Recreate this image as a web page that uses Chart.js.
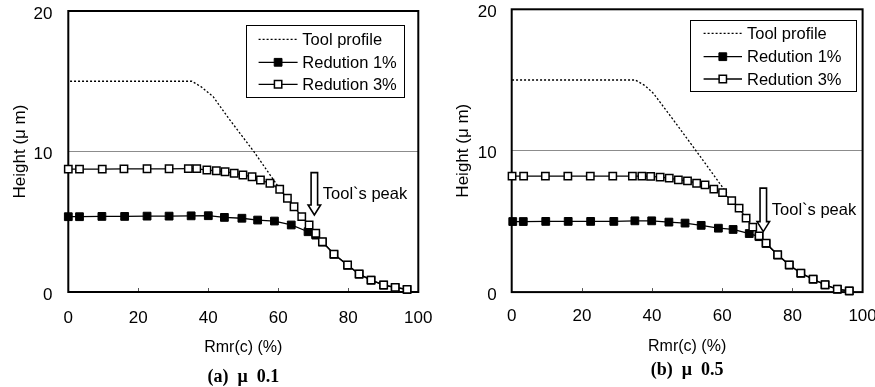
<!DOCTYPE html>
<html>
<head>
<meta charset="utf-8">
<script src="https://cdn.jsdelivr.net/npm/chart.js@4/dist/chart.umd.min.js"></script>
<style>
  html, body { margin: 0; padding: 0; background: #fff; }
  #wrap { position: relative; width: 875px; height: 387px; }
  canvas { position: absolute; top: 0; }
  #chartA { left: 0; }
  #chartB { left: 437px; }
</style>
</head>
<body>
<div id="wrap">
  <canvas id="chartA" width="437" height="387"></canvas>
  <canvas id="chartB" width="438" height="387"></canvas>
</div>
<script>
// ---- panel (a) mu 0.1 ----
const toolXA = [0.5, 35.3, 38, 41.4, 46, 53, 59.7];
const toolYA = [15, 15, 14.6, 13.9, 12.3, 10, 7.6];

const red1XA = [0, 3.2, 9.6, 16.1, 22.5, 28.8, 35.1, 40.0, 44.6, 49.6, 54.1, 58.9, 63.7, 68.5,
                70.7, 72.6, 75.9, 79.8, 83.1, 86.5, 90.1, 93.4, 96.8];
const red1YA = [5.36, 5.36, 5.38, 5.38, 5.40, 5.40, 5.42, 5.43, 5.31, 5.25, 5.12, 5.05, 4.77, 4.29,
                4.05, 3.55, 2.68, 1.90, 1.27, 0.84, 0.49, 0.32, 0.18];

const red3XA = [0, 3.2, 9.7, 15.9, 22.5, 28.8, 34.3, 36.7, 39.6, 42.3, 44.8, 47.4, 49.9, 52.5, 54.9,
                57.6, 60.4, 62.6, 64.5, 66.7, 68.8, 70.7, 72.6, 75.9, 79.8, 83.1, 86.5, 90.1, 93.4, 96.8];
const red3YA = [8.75, 8.75, 8.75, 8.76, 8.77, 8.77, 8.78, 8.78, 8.68, 8.63, 8.56, 8.45, 8.33, 8.20, 7.97,
                7.74, 7.31, 6.67, 6.07, 5.36, 4.77, 4.18, 3.58, 2.70, 1.92, 1.28, 0.85, 0.50, 0.33, 0.19];

const arrowA = [70.3, 8.5, 5.48]; // x, top, tip

// ---- panel (b) mu 0.5 ----
const toolXB = [0.1, 35.2, 38, 40.4, 46, 52.7, 61.3];
const toolYB = [15, 15, 14.6, 14.05, 12.2, 9.94, 7.0];

const red1XB = [0.3, 3.3, 9.7, 16.1, 22.5, 29.1, 35.1, 39.9, 44.8, 49.4, 54.0, 58.9, 63.1, 67.7,
                70.5, 72.5, 75.8, 79.1, 82.4, 85.9, 89.3, 92.8, 96.2];
const red1YB = [4.99, 4.99, 5.00, 5.00, 5.00, 5.00, 5.04, 5.04, 4.95, 4.88, 4.72, 4.52, 4.43, 4.14,
                3.92, 3.44, 2.62, 1.91, 1.33, 0.91, 0.51, 0.20, 0.08];

const red3XB = [0.1, 3.4, 9.6, 16.0, 22.4, 28.8, 34.4, 37.1, 39.6, 42.3, 44.9, 47.5, 50.1, 52.7, 55.1,
                57.6, 60.1, 62.7, 64.8, 66.8, 68.7, 70.5, 72.5, 75.8, 79.1, 82.4, 85.9, 89.3, 92.8, 96.2];
const red3YB = [8.20, 8.20, 8.20, 8.20, 8.20, 8.20, 8.20, 8.20, 8.18, 8.13, 8.06, 7.94, 7.87, 7.70, 7.58,
                7.28, 7.04, 6.47, 5.94, 5.23, 4.59, 3.98, 3.46, 2.64, 1.93, 1.34, 0.92, 0.52, 0.21, 0.09];

const arrowB = [71.7, 7.35, 4.28];

const xTicks = [0, 20, 40, 60, 80, 100];
const yTicks = [0, 10, 20];
const seriesLabels = ['Tool profile', 'Redution 1%', 'Redution 3%'];

const SANS = '"Liberation Sans", "Noto Sans CJK JP", sans-serif';
Chart.defaults.color = '#000';

function toPoints(xs, ys) {
  return xs.map((x, i) => ({ x: x, y: ys[i] }));
}

// plot frame + small inward ticks on the x axis
const framePlugin = {
  id: 'frame',
  beforeDatasetsDraw(chart) {
    const { ctx, chartArea: a, scales } = chart;
    ctx.save();
    ctx.strokeStyle = '#000';
    ctx.lineWidth = 2;
    ctx.strokeRect(a.left, a.top, a.right - a.left, a.bottom - a.top);
    ctx.lineWidth = 1;
    ctx.strokeStyle = '#555';
    xTicks.slice(1, -1).forEach(v => {
      const px = Math.round(scales.x.getPixelForValue(v)) + 0.5;
      ctx.beginPath();
      ctx.moveTo(px, a.bottom - 1);
      ctx.lineTo(px, a.bottom - 4);
      ctx.stroke();
    });
    ctx.restore();
  }
};

// boxed legend inside the plot, line sample with marker
const boxLegendPlugin = {
  id: 'boxLegend',
  afterDatasetsDraw(chart, args, o) {
    const { ctx, chartArea: a } = chart;
    const x0 = a.right - o.right - o.width;
    const y0 = a.top + o.top;
    ctx.save();
    ctx.fillStyle = '#fff';
    ctx.fillRect(x0, y0, o.width, o.height);
    ctx.strokeStyle = '#000';
    ctx.lineWidth = 1;
    ctx.strokeRect(Math.round(x0) + 0.5, Math.round(y0) + 0.5, o.width, o.height);
    chart.data.datasets.forEach((ds, i) => {
      const y = y0 + o.rows[i];
      const l = x0 + o.lineFrom, r = x0 + o.lineTo;
      ctx.strokeStyle = ds.borderColor;
      ctx.lineWidth = ds.borderWidth;
      ctx.setLineDash(ds.borderDash || []);
      ctx.beginPath();
      ctx.moveTo(l, y);
      ctx.lineTo(r, y);
      ctx.stroke();
      ctx.setLineDash([]);
      if (ds.pointRadius > 0) {
        const s = ds.pointRadius * Math.SQRT1_2;
        const mx = (l + r) / 2;
        ctx.fillStyle = ds.pointBackgroundColor;
        ctx.lineWidth = ds.pointBorderWidth;
        ctx.beginPath();
        ctx.rect(mx - s, y - s, 2 * s, 2 * s);
        ctx.fill();
        ctx.stroke();
      }
      ctx.fillStyle = '#000';
      ctx.font = '16.5px ' + SANS;
      ctx.textBaseline = 'middle';
      ctx.textAlign = 'left';
      ctx.fillText(ds.label, x0 + o.textX, y + 1);
    });
    ctx.restore();
  }
};

// hollow arrow marking the tool peak
const peakArrowPlugin = {
  id: 'peakArrow',
  afterDatasetsDraw(chart, args, o) {
    const { ctx, scales } = chart;
    const x = scales.x.getPixelForValue(o.at[0]);
    const yTop = scales.y.getPixelForValue(o.at[1]);
    const yTip = scales.y.getPixelForValue(o.at[2]);
    const sw = o.shaft / 2, hw = o.head / 2, hl = o.headLen;
    ctx.save();
    ctx.beginPath();
    ctx.moveTo(x - sw, yTop);
    ctx.lineTo(x + sw, yTop);
    ctx.lineTo(x + sw, yTip - hl);
    ctx.lineTo(x + hw, yTip - hl);
    ctx.lineTo(x, yTip);
    ctx.lineTo(x - hw, yTip - hl);
    ctx.lineTo(x - sw, yTip - hl);
    ctx.closePath();
    ctx.fillStyle = '#fff';
    ctx.fill();
    ctx.strokeStyle = '#000';
    ctx.lineWidth = 1.6;
    ctx.stroke();
    ctx.fillStyle = '#000';
    ctx.font = '16.5px ' + SANS;
    ctx.textBaseline = 'middle';
    ctx.textAlign = 'left';
    ctx.fillText(o.text, x + o.textDx, (yTop + yTip) / 2 + 1);
    ctx.restore();
  }
};

function buildChart(id, d, lay) {
  return new Chart(document.getElementById(id), {
    type: 'line',
    data: {
      datasets: [
        {
          label: seriesLabels[0],
          data: toPoints(d.toolX, d.toolY),
          borderColor: '#000',
          borderWidth: 1.3,
          borderDash: [2, 2],
          pointRadius: 0,
          order: 2
        },
        {
          label: seriesLabels[1],
          data: toPoints(d.r1X, d.r1Y),
          borderColor: '#000',
          borderWidth: 1.3,
          pointStyle: 'rect',
          pointRadius: 5.5,
          pointBorderWidth: 1,
          pointBackgroundColor: '#000',
          pointBorderColor: '#000',
          order: 1
        },
        {
          label: seriesLabels[2],
          data: toPoints(d.r3X, d.r3Y),
          borderColor: '#000',
          borderWidth: 1.3,
          pointStyle: 'rect',
          pointRadius: 5.2,
          pointBorderWidth: 1.5,
          pointBackgroundColor: '#fff',
          pointBorderColor: '#000',
          order: 0
        }
      ]
    },
    options: {
      responsive: false,
      animation: false,
      clip: false,
      layout: { padding: { top: lay.top, right: lay.right, left: 0, bottom: 0 } },
      elements: { line: { tension: 0 } },
      plugins: {
        legend: { display: false },
        tooltip: { enabled: false },
        title: {
          display: true,
          position: 'bottom',
          fullSize: false,
          text: d.caption,
          color: '#000',
          font: { family: '"Liberation Serif", "DejaVu Serif", serif', size: 18, weight: 'bold', lineHeight: 1.1 },
          padding: { top: 0, bottom: lay.capPad }
        },
        boxLegend: lay.legend,
        peakArrow: { at: d.arrow, text: 'Tool`s peak', shaft: 6.5, head: 12.5, headLen: 10, textDx: 8.5 }
      },
      scales: {
        x: {
          type: 'linear',
          min: 0,
          max: 100,
          afterBuildTicks: s => { s.ticks = xTicks.map(v => ({ value: v })); },
          ticks: { padding: lay.xTickPad, font: { family: SANS, size: 17, lineHeight: 1.2 } },
          grid: { display: false, drawTicks: false },
          border: { display: false },
          title: {
            display: true,
            text: 'Rmr(c) (%)',
            font: { family: SANS, size: 16, lineHeight: 1.2 },
            padding: { top: 0, bottom: lay.xTitlePad }
          },
          afterFit: s => { s.height = lay.xH; s.paddingLeft = 0; s.paddingRight = 0; }
        },
        y: {
          type: 'linear',
          min: 0,
          max: 20,
          afterBuildTicks: s => { s.ticks = yTicks.map(v => ({ value: v })); },
          ticks: { padding: lay.yTickPad, labelOffset: 3, font: { family: SANS, size: 17, lineHeight: 1.2 } },
          grid: {
            drawTicks: false,
            lineWidth: 1,
            color: c => (c.tick && c.tick.value === 10 ? '#8c8c8c' : 'rgba(0,0,0,0)')
          },
          border: { display: false },
          title: {
            display: true,
            text: 'Height (μ m)',
            font: { family: SANS, size: 17, lineHeight: 1.2 },
            padding: { top: lay.yTitlePad, bottom: 0 }
          },
          afterFit: s => { s.width = lay.yW; s.paddingTop = 0; s.paddingBottom = 0; }
        }
      }
    },
    plugins: [framePlugin, boxLegendPlugin, peakArrowPlugin]
  });
}

buildChart('chartA', {
  toolX: toolXA, toolY: toolYA, r1X: red1XA, r1Y: red1YA, r3X: red3XA, r3Y: red3YA,
  arrow: arrowA, caption: '(a)  μ  0.1'
}, {
  top: 11, right: 18.7, yW: 68.3, xH: 75.2, capPad: 0,
  xTickPad: 16, xTitlePad: 9.9, yTickPad: 15.8, yTitlePad: 9.8,
  legend: { right: 14, top: 14, width: 158, height: 72, rows: [14.3, 37.3, 59.3], lineFrom: 12.3, lineTo: 51.3, textX: 56 }
});

buildChart('chartB', {
  toolX: toolXB, toolY: toolYB, r1X: red1XB, r1Y: red1YB, r3X: red3XB, r3Y: red3YB,
  arrow: arrowB, caption: '(b)  μ  0.5'
}, {
  top: 9.3, right: 12.4, yW: 74.7, xH: 68.1, capPad: 7,
  xTickPad: 14.4, xTitlePad: 4.1, yTickPad: 15, yTitlePad: 16.1,
  legend: { right: 7, top: 10.7, width: 166, height: 71, rows: [13.3, 36.7, 59], lineFrom: 14, lineTo: 52.4, textX: 57.4 }
});
</script>
</body>
</html>
